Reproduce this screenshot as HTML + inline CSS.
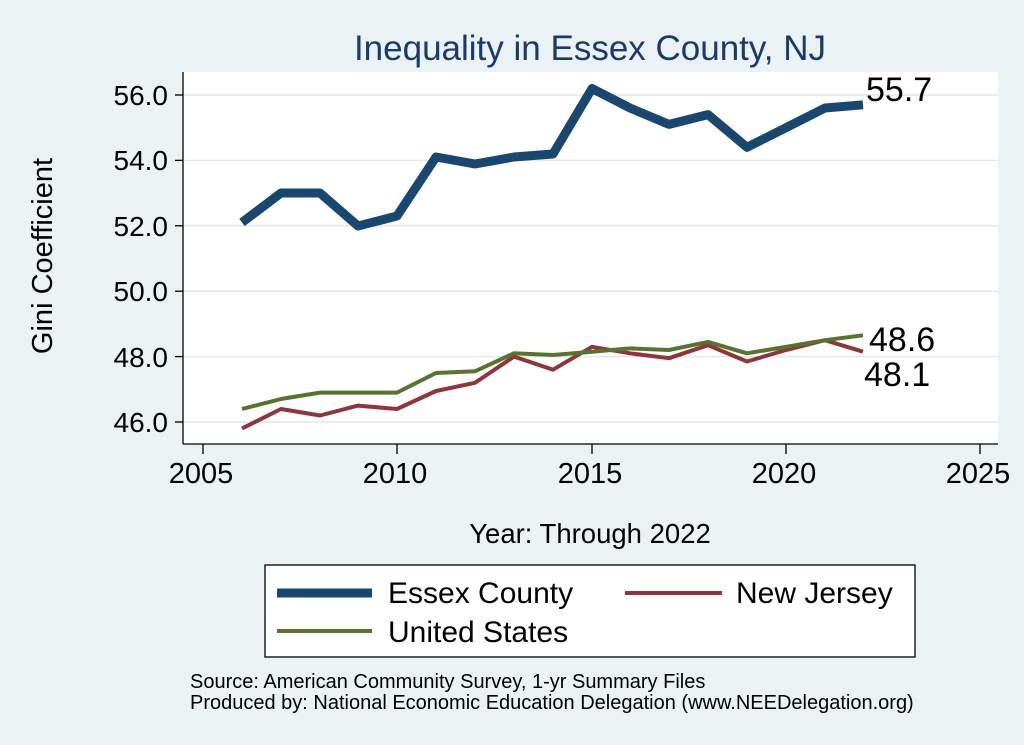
<!DOCTYPE html>
<html><head><meta charset="utf-8"><style>
body{margin:0;background:#eaf2f3;}
svg{display:block;font-family:"Liberation Sans",sans-serif;}
</style></head><body>
<svg width="1024" height="745" viewBox="0 0 1024 745">
<rect width="1024" height="745" fill="#eaf2f3"/>
<rect x="183" y="72" width="815" height="372" fill="#fff"/>
<g stroke="#e6e6e6" stroke-width="1.5">
<line x1="183" x2="998" y1="422" y2="422"/><line x1="183" x2="998" y1="356.6" y2="356.6"/>
<line x1="183" x2="998" y1="291.2" y2="291.2"/><line x1="183" x2="998" y1="225.8" y2="225.8"/>
<line x1="183" x2="998" y1="160.4" y2="160.4"/><line x1="183" x2="998" y1="95" y2="95"/>
</g>
<g stroke="#000" stroke-width="1.3">
<line x1="183" x2="183" y1="72" y2="444"/><line x1="183" x2="998" y1="444" y2="444"/>
<line x1="175" x2="183" y1="422" y2="422"/><line x1="175" x2="183" y1="356.6" y2="356.6"/>
<line x1="175" x2="183" y1="291.2" y2="291.2"/><line x1="175" x2="183" y1="225.8" y2="225.8"/>
<line x1="175" x2="183" y1="160.4" y2="160.4"/><line x1="175" x2="183" y1="95" y2="95"/>
<line x1="203" x2="203" y1="444" y2="454"/><line x1="397" x2="397" y1="444" y2="454"/>
<line x1="592" x2="592" y1="444" y2="454"/><line x1="786" x2="786" y1="444" y2="454"/>
<line x1="980" x2="980" y1="444" y2="454"/>
</g>
<g font-size="28" text-anchor="end" fill="#000">
<text x="168" y="432">46.0</text><text x="168" y="367">48.0</text><text x="168" y="301">50.0</text>
<text x="168" y="236">52.0</text><text x="168" y="170">54.0</text><text x="168" y="105">56.0</text>
</g>
<g font-size="29" text-anchor="middle">
<text x="201" y="483">2005</text><text x="395" y="483">2010</text><text x="590" y="483">2015</text>
<text x="784" y="483">2020</text><text x="978" y="483">2025</text>
</g>
<text x="590" y="60" font-size="35" text-anchor="middle" fill="#1a3a6a">Inequality in Essex County, NJ</text>
<text x="590" y="543" font-size="27.5" text-anchor="middle">Year: Through 2022</text>
<text transform="translate(52,256) rotate(-90)" font-size="29" text-anchor="middle">Gini Coefficient</text>
<polyline fill="none" stroke="#1a476f" stroke-width="9" stroke-linejoin="round" points="242,222.5 281,193 320,193 358,226 397,216 436,157 475,164 514,157 553,154 592,88.5 630,108 669,124.4 708,114.6 747,147.3 786,127.7 825,108 863,104.8"/>
<polyline fill="none" stroke="#90353b" stroke-width="4" stroke-linejoin="round" points="242,428.5 281,409 320,415.5 358,405.6 397,409 436,391 475,382.8 514,356.6 553,369.7 592,346.8 630,353.3 669,358.2 708,345.2 747,361.5 786,350 825,340.2 863,351.7"/>
<polyline fill="none" stroke="#55752f" stroke-width="4" stroke-linejoin="round" points="242,409 281,399 320,392.6 358,392.6 397,392.6 436,373 475,371.3 514,353.3 553,355 592,351.7 630,348.4 669,350 708,341.9 747,353.3 786,346.8 825,340.2 863,335.3"/>
<g font-size="34"><text x="866" y="101">55.7</text><text x="869" y="351">48.6</text><text x="864" y="386">48.1</text></g>
<rect x="265" y="565" width="650" height="92" fill="#fff" stroke="#000" stroke-width="1.3"/>
<line x1="277" x2="372" y1="593" y2="593" stroke="#1a476f" stroke-width="9"/>
<text x="388" y="603" font-size="30">Essex County</text>
<line x1="625" x2="722" y1="593" y2="593" stroke="#90353b" stroke-width="4"/>
<text x="736" y="603" font-size="30">New Jersey</text>
<line x1="277" x2="372" y1="631" y2="631" stroke="#55752f" stroke-width="4"/>
<text x="388" y="642" font-size="30">United States</text>
<text x="190" y="688" font-size="20">Source: American Community Survey, 1-yr Summary Files</text>
<text x="190" y="709" font-size="20">Produced by: National Economic Education Delegation (www.NEEDelegation.org)</text>
</svg>
</body></html>
